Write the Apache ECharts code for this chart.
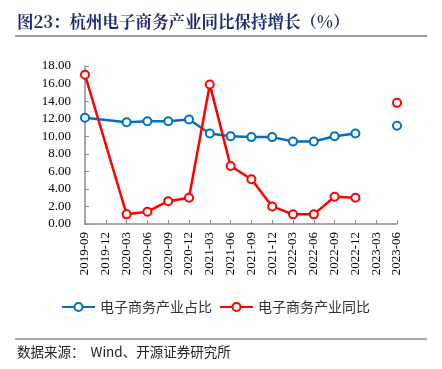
<!DOCTYPE html>
<html>
<head>
<meta charset="utf-8">
<script src="https://cdn.jsdelivr.net/npm/echarts@6/dist/echarts.min.js"></script>
<style>html,body{margin:0;padding:0;background:#fff;}#c{width:442px;height:369px;}</style>
</head>
<body>
<div id="c"></div>
<script>
const categories = ['2019-09','2019-12','2020-03','2020-06','2020-09','2020-12','2021-03','2021-06','2021-09','2021-12','2022-03','2022-06','2022-09','2022-12','2023-03','2023-06'];
const shareValues = [12.1, null, 11.6, 11.7, 11.7, 11.9, 10.3, 10.0, 9.9, 9.9, 9.4, 9.4, 10.0, 10.3, null, null];
const shareLatest = [null, null, null, null, null, null, null, null, null, null, null, null, null, null, null, 11.2];
const growthValues = [17.0, null, 1.1, 1.4, 2.6, 3.0, 15.9, 6.6, 5.1, 2.0, 1.1, 1.1, 3.1, 3.0, null, null];
const growthLatest = [null, null, null, null, null, null, null, null, null, null, null, null, null, null, null, 13.8];
const yTicks = {min: 0, max: 18, interval: 2};

const BLUE = '#0070C0', RED = '#FF0000';
const serif = '"Liberation Serif","Times New Roman",serif';
const cjk = '"Noto Sans CJK SC","Noto Sans",sans-serif';

function lineSeries(name, data, color, connect) {
  return {
    name: name, type: 'line', data: data, connectNulls: connect,
    symbol: 'emptyCircle', symbolSize: 8,
    lineStyle: {color: color, width: 2.5},
    itemStyle: {color: color, borderColor: color, borderWidth: 1.8},
    emphasis: {disabled: true}, animation: false
  };
}

const chart = echarts.init(document.getElementById('c'), null, {renderer: 'canvas'});
chart.setOption({
  backgroundColor: '#fff',
  animation: false,
  grid: {left: 85, right: 45, top: 66, bottom: 145},
  graphic: [
    {type: 'text', left: 17, top: 13, style: {text: '图23：杭州电子商务产业同比保持增长（%）', font: 'bold 16.5px "Noto Serif CJK SC","Noto Sans CJK SC",serif', fill: '#1F2C6E'}},
    {type: 'line', shape: {x1: 15, y1: 36, x2: 427, y2: 36}, style: {stroke: '#7f7f7f', lineWidth: 1.5}},
    {type: 'line', shape: {x1: 15, y1: 339, x2: 427, y2: 339}, style: {stroke: '#555', lineWidth: 1}},
    {type: 'text', left: 17, top: 345, style: {text: '数据来源：  Wind、开源证券研究所', font: '13.5px ' + cjk, fill: '#222'}}
  ],
  legend: {
    data: ['电子商务产业占比', '电子商务产业同比'],
    top: 295, left: 56, itemGap: 7, itemWidth: 33, itemHeight: 10,
    textStyle: {fontFamily: cjk, fontSize: 14, color: '#333'}
  },
  xAxis: {
    type: 'category', data: categories, boundaryGap: false,
    axisLine: {lineStyle: {color: '#8c8c8c', width: 1.5}},
    axisTick: {inside: true, length: 4, lineStyle: {color: '#8c8c8c'}},
    axisLabel: {rotate: 90, margin: 8, fontFamily: serif, fontSize: 13, color: '#000', interval: 0},
    splitLine: {show: false}
  },
  yAxis: {
    type: 'value', min: yTicks.min, max: yTicks.max, interval: yTicks.interval,
    axisLine: {show: true, lineStyle: {color: '#8c8c8c', width: 1.5}},
    axisTick: {show: true, inside: true, length: 4, lineStyle: {color: '#8c8c8c'}},
    axisLabel: {fontFamily: serif, fontSize: 13, color: '#000', margin: 14, formatter: v => v.toFixed(2)},
    splitLine: {show: false}
  },
  series: [
    lineSeries('电子商务产业占比', shareValues, BLUE, true),
    lineSeries('电子商务产业同比', growthValues, RED, true),
    lineSeries('占比最新', shareLatest, BLUE, false),
    lineSeries('同比最新', growthLatest, RED, false)
  ]
});
</script>
</body>
</html>
